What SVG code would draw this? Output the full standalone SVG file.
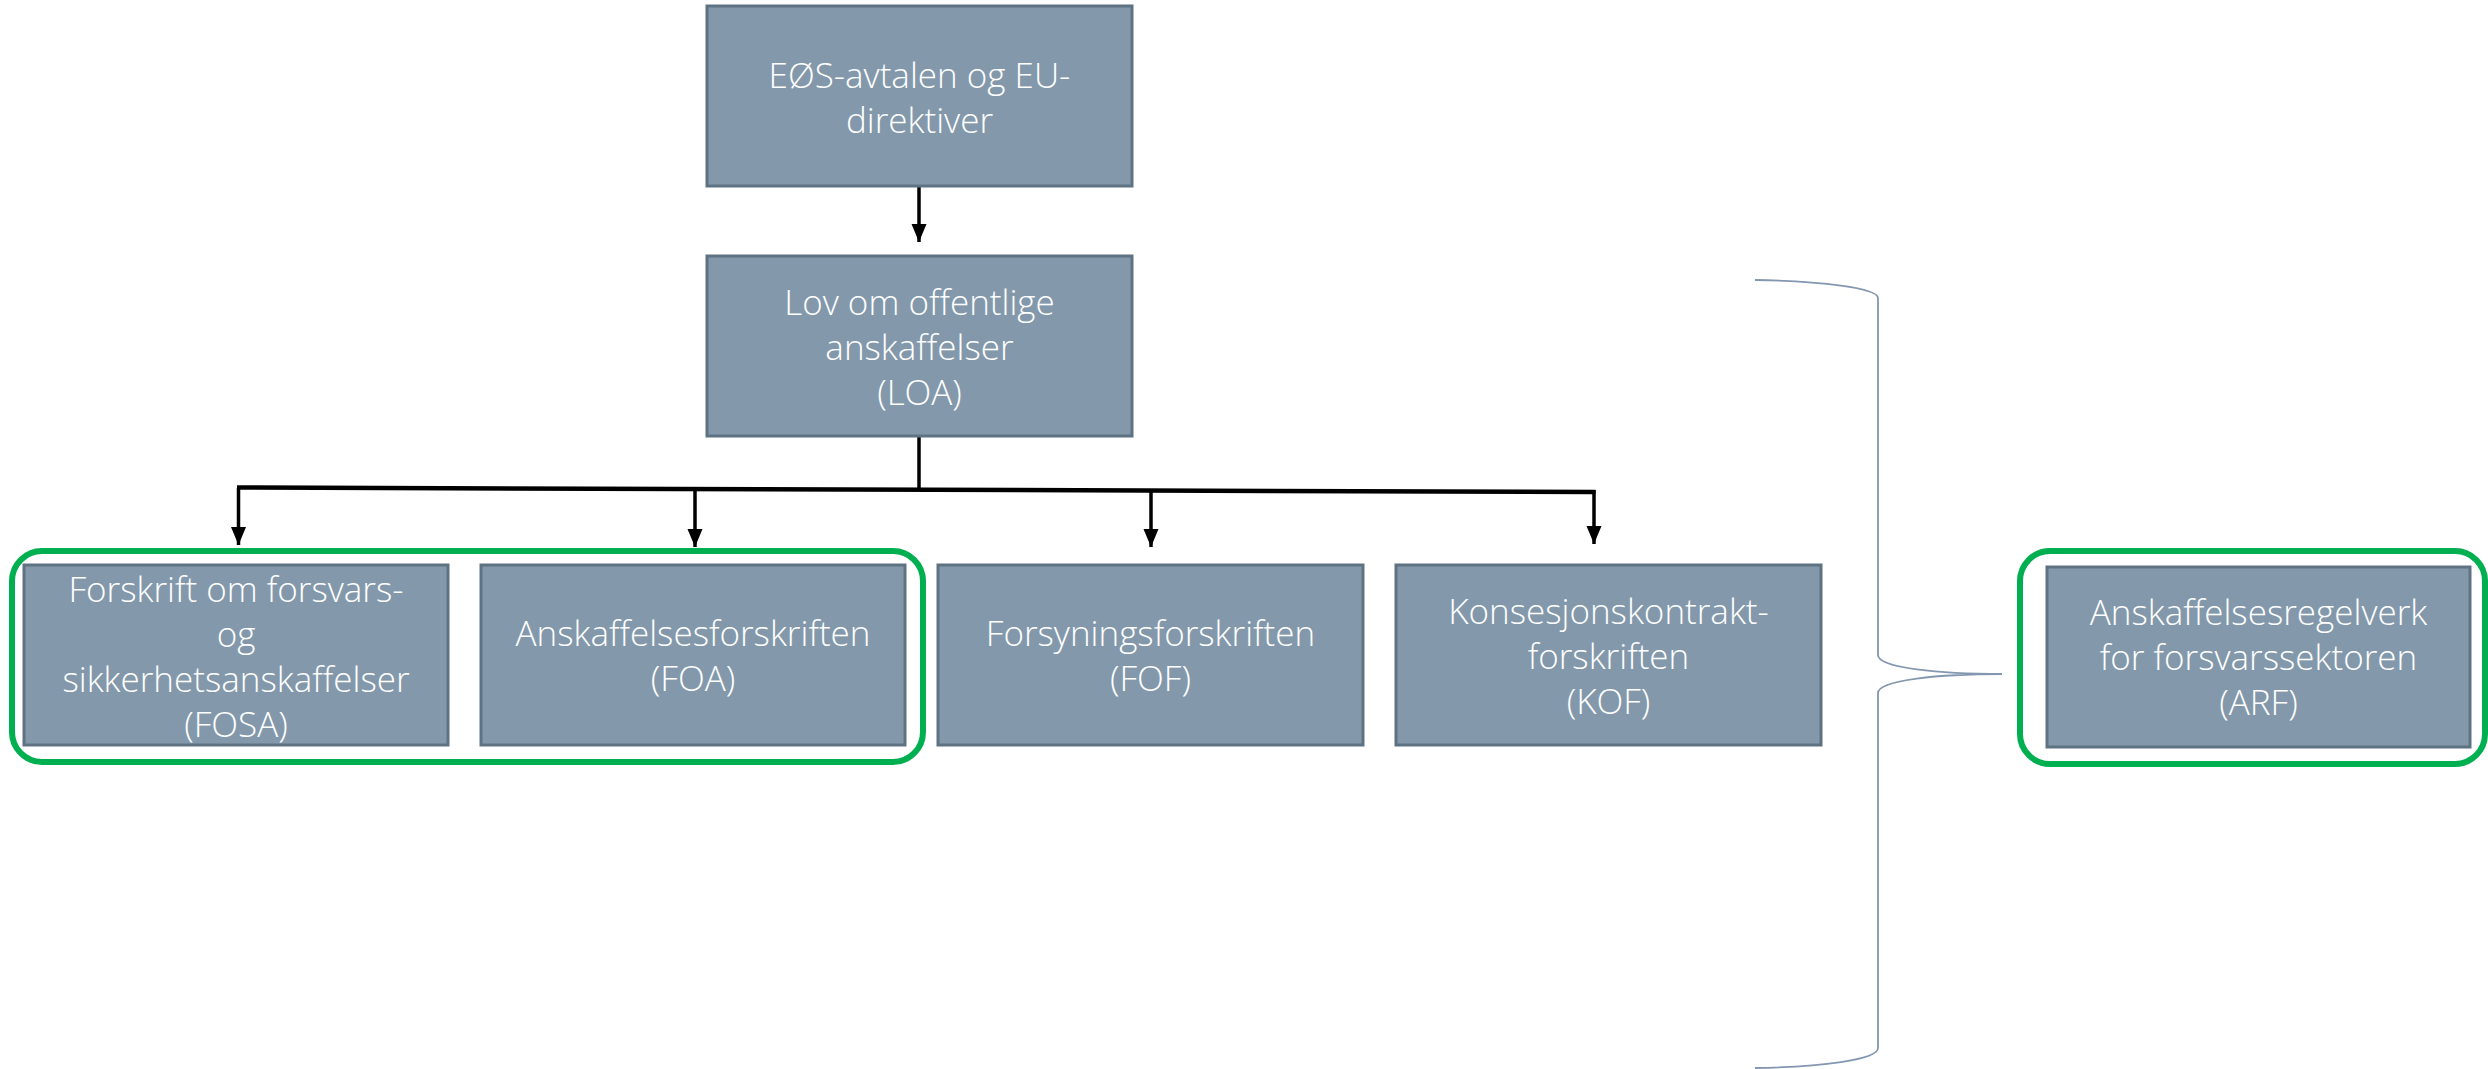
<svg xmlns="http://www.w3.org/2000/svg" width="2488" height="1069" viewBox="0 0 2488 1069">
<style>
.box{fill:#8399AB;stroke:#5F7282;stroke-width:3}
.t{font-family:"Open Sans","Noto Sans",sans-serif;font-size:35px;font-weight:300;fill:#ffffff;text-anchor:middle}
.hl{fill:none;stroke:#00B050;stroke-width:6}
.c{fill:none;stroke:#000;stroke-width:3.5}
.br{fill:none;stroke:#8497B0;stroke-width:1.8}
</style>
<defs>
<marker id="ah" viewBox="0 0 18 16" refX="18" refY="8" markerWidth="18" markerHeight="16" markerUnits="userSpaceOnUse" orient="auto">
<path d="M0,0.5 L18,8 L0,15.5 Z" fill="#000"/>
</marker>
</defs>
<rect width="2488" height="1069" fill="#fff"/>
<g id="connectors">
<line class="c" x1="919" y1="187" x2="919" y2="242" marker-end="url(#ah)"/>
<line class="c" x1="919" y1="437" x2="919" y2="489"/>
<line x1="237" y1="487.5" x2="1595.5" y2="492" stroke="#000" stroke-width="4.5"/>
<line class="c" x1="238.5" y1="488" x2="238.5" y2="545" marker-end="url(#ah)"/>
<line class="c" x1="695" y1="489" x2="695" y2="547" marker-end="url(#ah)"/>
<line class="c" x1="1151" y1="490" x2="1151" y2="547" marker-end="url(#ah)"/>
<line class="c" x1="1594" y1="490" x2="1594" y2="544" marker-end="url(#ah)"/>
</g>
<g id="bracket">
<path class="br" d="M1755,280 C1820,281 1878,288 1878,298 L1878,655 C1878,668 1940,674 2002,674 C1940,674 1878,680 1878,693 L1878,1048 C1878,1060 1820,1067 1755,1068"/>
</g>
<g id="group-highlight">
<rect class="hl" x="12" y="551" width="911" height="211" rx="30"/>
</g>
<g id="node-eos">
<rect class="box" x="707" y="6" width="425" height="180"/>
<text class="t" x="919.5" y="88">EØS-avtalen og EU-</text>
<text class="t" x="919.5" y="133">direktiver</text>
</g>
<g id="node-loa">
<rect class="box" x="707" y="256" width="425" height="180"/>
<text class="t" x="919.5" y="315">Lov om offentlige</text>
<text class="t" x="919.5" y="360">anskaffelser</text>
<text class="t" x="919.5" y="405">(LOA)</text>
</g>
<g id="node-fosa">
<rect class="box" x="24" y="565" width="424" height="180"/>
<text class="t" x="236" y="602">Forskrift om forsvars-</text>
<text class="t" x="236" y="647">og</text>
<text class="t" x="236" y="692">sikkerhetsanskaffelser</text>
<text class="t" x="236" y="737">(FOSA)</text>
</g>
<g id="node-foa">
<rect class="box" x="481" y="565" width="424" height="180"/>
<text class="t" x="693" y="646">Anskaffelsesforskriften</text>
<text class="t" x="693" y="691">(FOA)</text>
</g>
<g id="node-fof">
<rect class="box" x="938" y="565" width="425" height="180"/>
<text class="t" x="1150.5" y="646">Forsyningsforskriften</text>
<text class="t" x="1150.5" y="691">(FOF)</text>
</g>
<g id="node-kof">
<rect class="box" x="1396" y="565" width="425" height="180"/>
<text class="t" x="1608.5" y="624">Konsesjonskontrakt-</text>
<text class="t" x="1608.5" y="669">forskriften</text>
<text class="t" x="1608.5" y="714">(KOF)</text>
</g>
<g id="node-arf">
<rect class="hl" x="2020" y="551" width="465" height="213" rx="30"/>
<rect class="box" x="2047" y="567" width="423" height="180"/>
<text class="t" x="2258.5" y="625">Anskaffelsesregelverk</text>
<text class="t" x="2258.5" y="670">for forsvarssektoren</text>
<text class="t" x="2258.5" y="715">(ARF)</text>
</g>
</svg>
